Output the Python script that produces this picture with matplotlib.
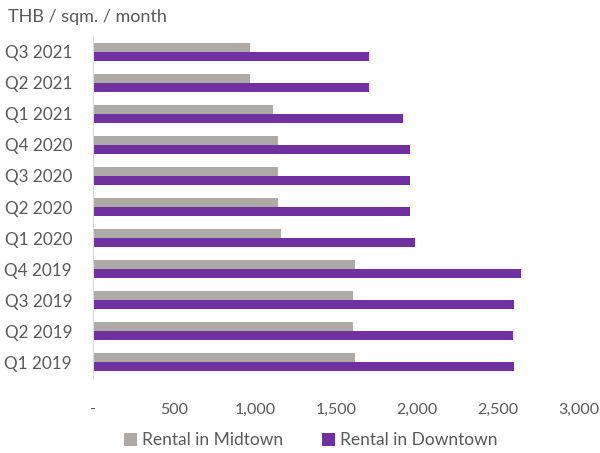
import matplotlib
matplotlib.use("Agg")
import matplotlib.pyplot as plt
import numpy as np

quarters = ["Q1 2019", "Q2 2019", "Q3 2019", "Q4 2019", "Q1 2020", "Q2 2020",
            "Q3 2020", "Q4 2020", "Q1 2021", "Q2 2021", "Q3 2021"]
midtown = [1617, 1605, 1605, 1617, 1160, 1141, 1141, 1141, 1110, 968, 968]
downtown = [2600, 2594, 2600, 2644, 1988, 1957, 1957, 1957, 1914, 1704, 1704]
xticks = [0, 500, 1000, 1500, 2000, 2500, 3000]
xtick_labels = ["-", "500", "1,000", "1,500", "2,000", "2,500", "3,000"]

plt.rcParams['font.family'] = ['Lato', 'DejaVu Sans']
text_col = "#595959"

fig = plt.figure(figsize=(6, 4.53), dpi=100)
ax = fig.add_axes([0.155, 0.166, 0.809, 0.754])

y = np.arange(len(quarters))
h = 0.29
ax.barh(y + h / 2, midtown, height=h, color="#ADAAA7", label="Rental in Midtown")
ax.barh(y - h / 2, downtown, height=h, color="#7030A0", label="Rental in Downtown")

ax.set_xlim(0, 3000)
ax.set_ylim(-0.5, len(quarters) - 0.5)
ax.set_yticks(y)
ax.set_yticklabels(quarters)
ax.set_xticks(xticks)
ax.set_xticklabels(xtick_labels)
ax.tick_params(length=0, colors=text_col)
ax.tick_params(axis="x", pad=18, labelsize=11.5)
ax.tick_params(axis="y", pad=15, labelsize=12.3)

for s in ["top", "right", "bottom"]:
    ax.spines[s].set_visible(False)
ax.spines["left"].set_color("#D9D9D9")

fig.text(0.013, 0.962, "THB / sqm. / month", fontsize=13, color=text_col, va="center")

leg = fig.legend(loc="center", bbox_to_anchor=(0.518, 0.028), ncol=2, frameon=False,
                 fontsize=12.5, handlelength=0.75, handleheight=0.75, handletextpad=0.3,
                 columnspacing=2.2)
for t in leg.get_texts():
    t.set_color(text_col)

fig.savefig("out.png", dpi=100)
